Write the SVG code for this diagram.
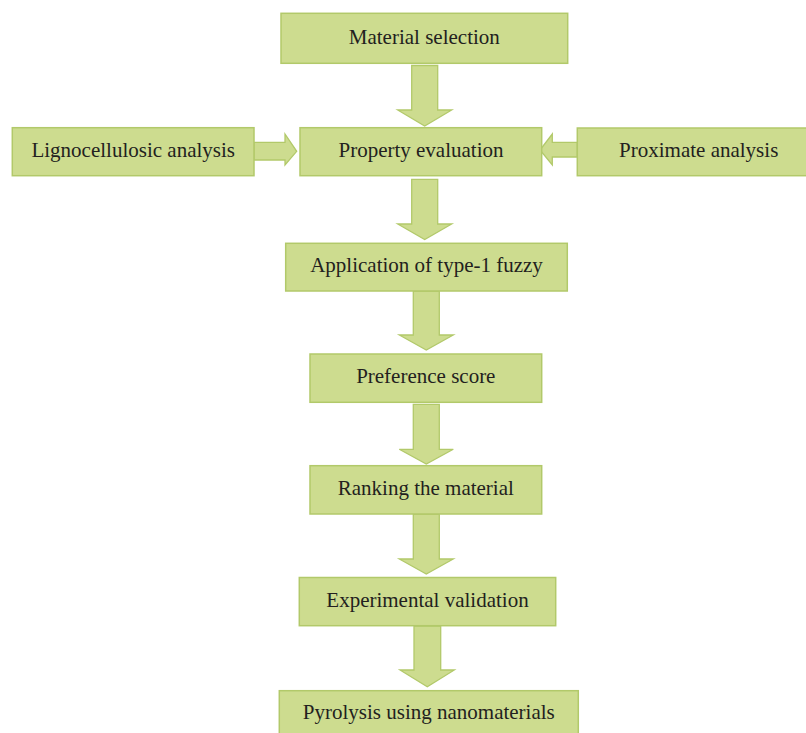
<svg xmlns="http://www.w3.org/2000/svg" width="806" height="733" viewBox="0 0 806 733">
<style>
.box{fill:#cddc8f;stroke:#b2c96a;stroke-width:1.5}
.arr{fill:#cddc8f;stroke:#b2c96a;stroke-width:1.3;stroke-linejoin:miter}
text{font-family:"Liberation Serif","Times New Roman",serif;font-size:21px;fill:#231f20;text-anchor:middle}
</style>
<rect width="806" height="733" fill="#ffffff"/>
<g id="connectors">
<polygon class="arr" points="411.7,65.5 437.7,65.5 437.7,110 451.7,110 424.7,126 397.7,110 411.7,110"/>
<polygon class="arr" points="411.7,179.3 437.7,179.3 437.7,224 451.7,224 424.7,239.5 397.7,224 411.7,224"/>
<polygon class="arr" points="413.3,291 439.3,291 439.3,335 453.3,335 426.3,350 399.3,335 413.3,335"/>
<polygon class="arr" points="413.3,404.3 439.3,404.3 439.3,449.3 453.3,449.3 426.3,464 399.3,449.3 413.3,449.3"/>
<polygon class="arr" points="413.3,514 439.3,514 439.3,559 453.3,559 426.3,574 399.3,559 413.3,559"/>
<polygon class="arr" points="414,626 440.7,626 440.7,670 454.3,670 427.3,686.7 400,670 414,670"/>
<polygon class="arr" points="254,142.3 285,142.3 285,134 296.7,151.3 285,165 285,160 254,160"/>
<polygon class="arr" points="577.3,142.3 552.3,142.3 552.3,134 540,150 552.3,165 552.3,157 577.3,157"/>
</g>
<g id="n-material-selection">
<rect class="box" x="281" y="13.3" width="286.7" height="50"/>
<text x="424.3" y="44.3">Material selection</text>
</g>
<g id="n-lignocellulosic">
<rect class="box" x="12.3" y="127.7" width="241.7" height="48"/>
<text x="133.2" y="157">Lignocellulosic analysis</text>
</g>
<g id="n-property-evaluation">
<rect class="box" x="300" y="127.7" width="241.7" height="48"/>
<text x="421" y="157">Property evaluation</text>
</g>
<g id="n-proximate">
<rect class="box" x="577.3" y="128" width="240" height="47.7"/>
<text x="698.7" y="157">Proximate analysis</text>
</g>
<g id="n-fuzzy">
<rect class="box" x="285.7" y="243.3" width="281.6" height="47.7"/>
<text x="426.5" y="272.3">Application of type-1 fuzzy</text>
</g>
<g id="n-preference">
<rect class="box" x="310" y="354" width="231.7" height="48.3"/>
<text x="425.8" y="382.7">Preference score</text>
</g>
<g id="n-ranking">
<rect class="box" x="310" y="465.7" width="231.7" height="48.3"/>
<text x="425.8" y="495">Ranking the material</text>
</g>
<g id="n-experimental">
<rect class="box" x="299.3" y="577.5" width="256.4" height="48.2"/>
<text x="427.5" y="606.7">Experimental validation</text>
</g>
<g id="n-pyrolysis">
<rect class="box" x="279.3" y="690.7" width="299" height="48"/>
<text x="428.8" y="719">Pyrolysis using nanomaterials</text>
</g>
</svg>
